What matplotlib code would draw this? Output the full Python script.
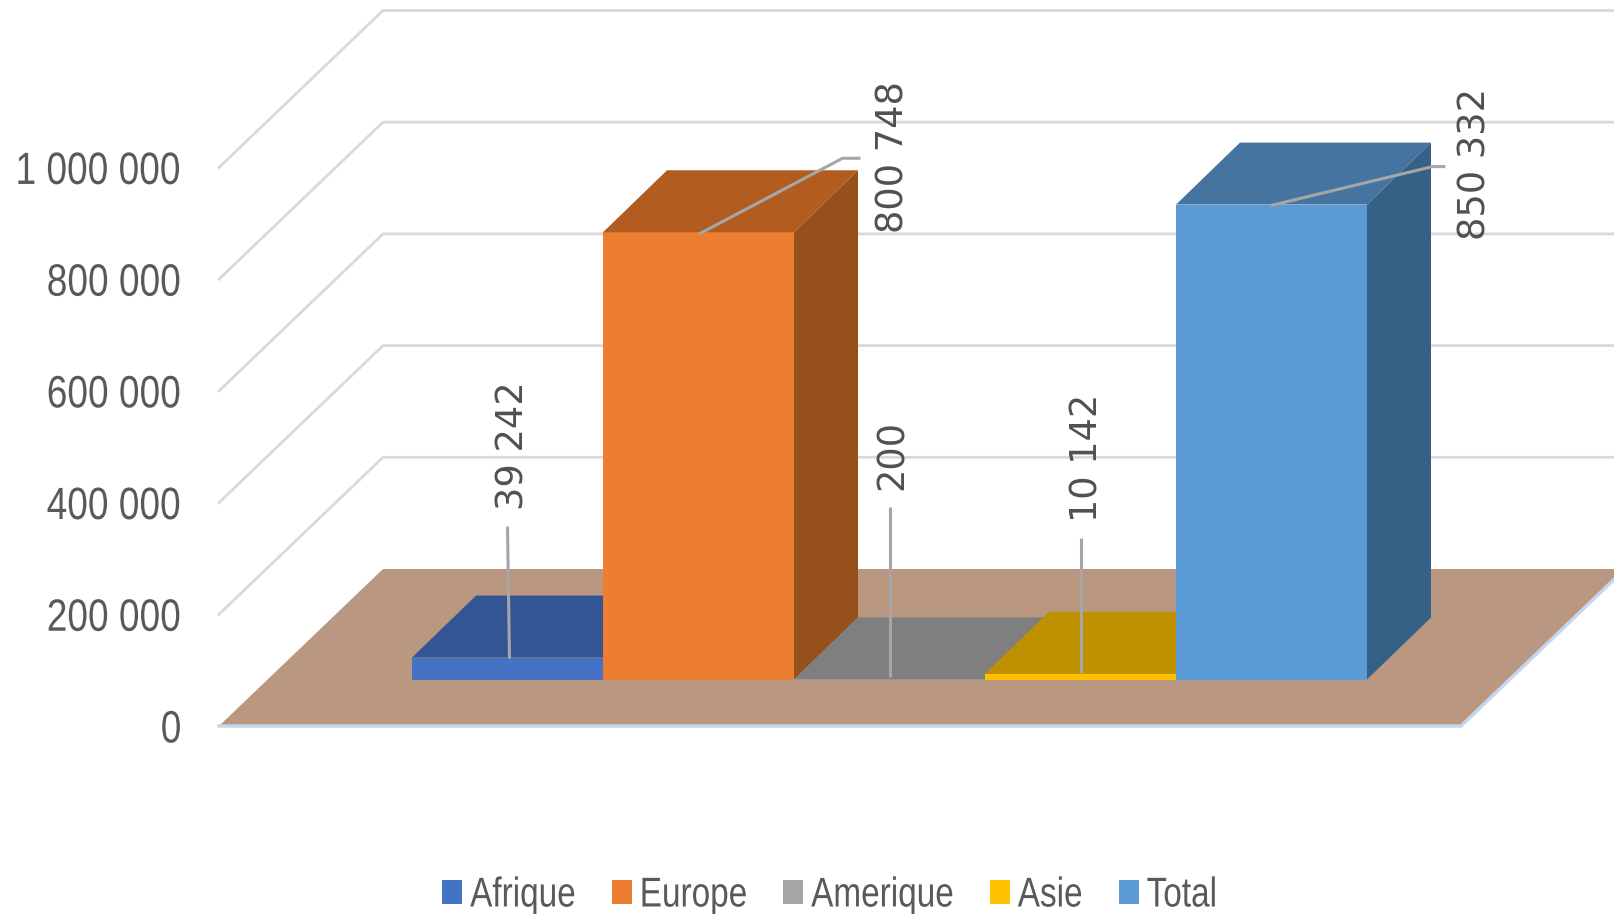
import matplotlib
matplotlib.use("Agg")
import matplotlib.pyplot as plt
from matplotlib.patches import Polygon, Patch
from matplotlib.patheffects import AbstractPathEffect
from matplotlib.transforms import Affine2D

categories = ["Afrique", "Europe", "Amerique", "Asie", "Total"]
values = [39242, 800748, 200, 10142, 850332]
yticks = [0, 200000, 400000, 600000, 800000, 1000000]

front_colors = ["#4472C4", "#ED7D31", "#A5A5A5", "#FFC000", "#5B9BD5"]
top_colors = ["#335593", "#B25C1F", "#7F7F7F", "#BF9000", "#44749F"]
side_colors = ["#2A4A80", "#96501C", "#6E6E6E", "#A67C00", "#366186"]

W, H = 1614, 914
X0_PX, Y0_PX = 219, 726   # front left corner of the floor
UNIT_PX = 191             # width of one bar
VAL_PX = 0.0005585        # pixels per unit of value
BAR_LEFT_PX = 412


def dx(px):
    return px / UNIT_PX


def dy(px):
    return px / VAL_PX


class StretchY(AbstractPathEffect):
    # the reference text is tall and narrow, no condensed font is installed
    def __init__(self, sy):
        super().__init__()
        self.sy = sy

    def draw_path(self, renderer, gc, tpath, affine, rgbFace=None):
        # glyph paths are in units of 1/100 em, 36 is about half the digit height
        t = Affine2D().translate(0, -36).scale(1, self.sy).translate(0, 36)
        renderer.draw_path(gc, tpath, t + affine, rgbFace)


fig = plt.figure(figsize=(W / 100, H / 100), dpi=100)
ax = fig.add_axes([X0_PX / W, (H - Y0_PX) / H, 1 - X0_PX / W, Y0_PX / H])
ax.set_xlim(dx(X0_PX - BAR_LEFT_PX), dx(W - BAR_LEFT_PX))
ax.set_ylim(0, dy(Y0_PX))
for s in ax.spines.values():
    s.set_visible(False)
ax.set_xticks([])
ax.set_yticks(yticks)
ax.set_yticklabels([f"{t:,}".replace(",", " ") for t in yticks],
                   family="Liberation Sans", fontsize=26.7, color="#595959")
for lab in ax.get_yticklabels():
    lab.set_path_effects([StretchY(1.22)])
ax.tick_params(axis="y", length=0, pad=27)
ax.patch.set_visible(False)

left = dx(X0_PX - BAR_LEFT_PX)
right = dx(1461 - BAR_LEFT_PX)
wall_dx, wall_dy = dx(164), dy(157)

# walls
for t in yticks[1:]:
    ax.plot([left, left + wall_dx, 10], [t, t + wall_dy, t + wall_dy],
            color="#D9D9D9", lw=2, clip_on=False, zorder=1)

# floor
ax.add_patch(Polygon([(left, 0), (right, 0), (right + wall_dx, wall_dy), (left + wall_dx, wall_dy)],
                     facecolor="#BA9780", edgecolor="none", clip_on=False, zorder=2))
ax.plot([right + wall_dx, right, left], [wall_dy, 0, 0], color="#C5D6EE", lw=2.5,
        clip_on=False, zorder=2.5, solid_joinstyle="miter")

# bars, left to right
base = dy(46.5)
bar_dx, bar_dy = dx(64), dy(62)
for i, v in enumerate(values):
    z = 3 + i * 0.1
    top = base + v
    ax.add_patch(Polygon([(i, base), (i + 1, base), (i + 1, top), (i, top)],
                         facecolor=front_colors[i], edgecolor="none", zorder=z))
    ax.add_patch(Polygon([(i, top), (i + 1, top), (i + 1 + bar_dx, top + bar_dy), (i + bar_dx, top + bar_dy)],
                         facecolor=top_colors[i], edgecolor="none", zorder=z))
    ax.add_patch(Polygon([(i + 1, base), (i + 1 + bar_dx, base + bar_dy), (i + 1 + bar_dx, top + bar_dy), (i + 1, top)],
                         facecolor=side_colors[i], edgecolor="none", zorder=z))

# leader lines, offsets in pixels from the middle of the bar top
leaders = [
    [(2, -1), (0, 131)],
    [(0, -2), (144, 74), (162, 74)],
    [(0, 2), (0, 172)],
    [(0, 1), (0, 136)],
    [(-1, -1), (161, 38), (174, 38)],
]
label_pos = [(5, 148), (194, -1), (3, 189), (6, 152), (204, -35)]

for i, v in enumerate(values):
    cx = i + 0.5
    top = base + v
    ax.plot([cx + dx(p[0]) for p in leaders[i]], [top + dy(p[1]) for p in leaders[i]],
            color="#A6A6A6", lw=2.2, zorder=5, clip_on=False, solid_capstyle="butt")
    ax.text(cx + dx(label_pos[i][0]), top + dy(label_pos[i][1]), f"{v:,}".replace(",", " "),
            rotation=90, ha="center", va="bottom", fontsize=26.5, color="#505050", zorder=6)

handles = [Patch(facecolor=c, edgecolor="none", label=n) for c, n in zip(front_colors, categories)]
leg = fig.legend(handles=handles, loc="center", bbox_to_anchor=(829.5 / W, 1 - 895 / H), ncol=5,
                 frameon=False, prop={"family": "Liberation Sans", "size": 24},
                 labelcolor="#595959", handlelength=0.6, handleheight=0.75, handletextpad=0.24,
                 columnspacing=1.08, borderpad=0, borderaxespad=0)
for lab in leg.get_texts():
    lab.set_path_effects([StretchY(1.25)])

fig.savefig("out.png", dpi=100)
